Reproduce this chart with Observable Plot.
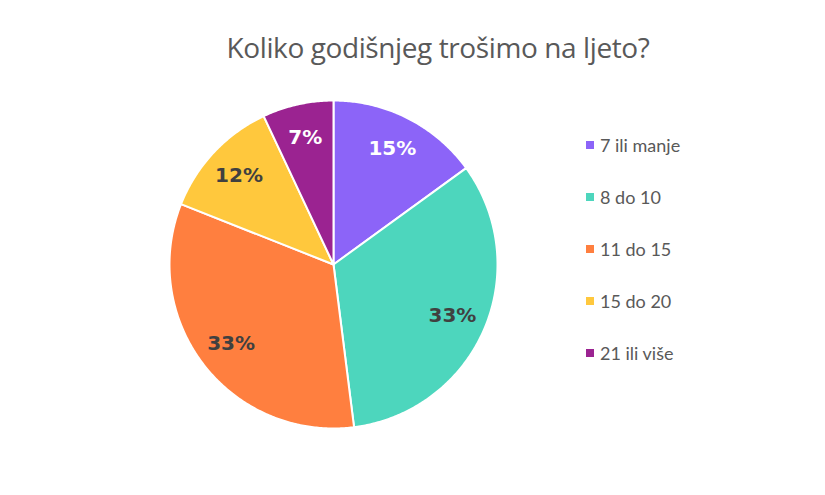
<!DOCTYPE html>
<html>
<head>
<meta charset="utf-8">
<script src="https://cdn.jsdelivr.net/npm/d3@7"></script>
<script src="https://cdn.jsdelivr.net/npm/@observablehq/plot@0.6"></script>
<style>
  html, body { margin: 0; padding: 0; background: #fff; }
  #wrap { position: relative; width: 825px; height: 495px; overflow: hidden; }
  #title { position: absolute; left: 0; width: 876px; top: 27px; text-align: center; line-height: 40px;
    font-family: "Open Sans", sans-serif; font-size: 28px; color: #595959; letter-spacing: -0.4px; }
  #legend { position: absolute; left: 586px; top: 133px; font-family: Lato, sans-serif; font-size: 18px; color: #595959; }
  .item { height: 52px; display: flex; align-items: flex-start; line-height: 24px; }
  .sw { width: 8px; height: 8px; margin-right: 6px; margin-top: 8px; }
  #chart { position: absolute; left: 0; top: 0; }
</style>
</head>
<body>
<div id="wrap">
  <div id="chart"></div>
  <div id="title">Koliko godišnjeg trošimo na ljeto?</div>
  <div id="legend"></div>
</div>
<script>
const categories = ["7 ili manje", "8 do 10", "11 do 15", "15 do 20", "21 ili više"];
const values = [15, 33, 33, 12, 7];
const colors = ["#8C64F8", "#4DD6BD", "#FF7F3F", "#FFC83D", "#9B2391"];
const labels = ["15%", "33%", "33%", "12%", "7%"];
const lightLabel = [true, false, false, false, true];

const data = categories.map((c, i) => ({cat: c, value: values[i], label: labels[i], light: lightLabel[i]}));
const arcs = d3.pie().sort(null).value(d => d.value)(data);

const pts = [];
const labelPts = [];
for (const a of arcs) {
  const c = a.data.cat;
  pts.push({cat: c, x: 0, y: 0});
  const n = Math.max(2, Math.ceil((a.endAngle - a.startAngle) / 0.01));
  for (let k = 0; k <= n; k++) {
    const t = a.startAngle + (a.endAngle - a.startAngle) * k / n;
    pts.push({cat: c, x: Math.sin(t), y: Math.cos(t)});
  }
  pts.push({cat: c, x: 0, y: 0});
  const m = (a.startAngle + a.endAngle) / 2;
  labelPts.push({x: 0.79 * Math.sin(m), y: 0.79 * Math.cos(m), label: a.data.label, light: a.data.light});
}

const chart = Plot.plot({
  width: 825,
  height: 495,
  margin: 0,
  x: {domain: [-1, 1], range: [169, 497], axis: null},
  y: {domain: [-1, 1], range: [428, 100], axis: null},
  color: {domain: categories, range: colors},
  style: {background: "transparent"},
  marks: [
    Plot.line(pts, {x: "x", y: "y", z: "cat", fill: "cat", stroke: "white", strokeWidth: 2, strokeLinejoin: "round"}),
    Plot.text(labelPts.filter(d => d.light), {x: "x", y: "y", text: "label", fill: "white", fontSize: 20, fontWeight: "bold", fontFamily: "DejaVu Sans, sans-serif"}),
    Plot.text(labelPts.filter(d => !d.light), {x: "x", y: "y", text: "label", fill: "#404040", fontSize: 20, fontWeight: "bold", fontFamily: "DejaVu Sans, sans-serif"})
  ]
});
document.getElementById("chart").appendChild(chart);

const legend = document.getElementById("legend");
categories.forEach((c, i) => {
  const item = document.createElement("div");
  item.className = "item";
  const sw = document.createElement("div");
  sw.className = "sw";
  sw.style.background = colors[i];
  const tx = document.createElement("span");
  tx.textContent = c;
  item.appendChild(sw);
  item.appendChild(tx);
  legend.appendChild(item);
});
</script>
</body>
</html>
